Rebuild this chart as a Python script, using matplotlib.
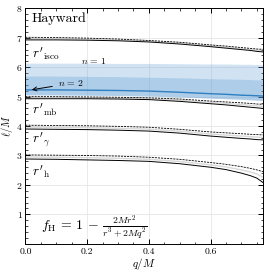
import numpy as np
import matplotlib
matplotlib.use("Agg")
import matplotlib.pyplot as plt

plt.rcParams['font.family'] = 'serif'
plt.rcParams['font.serif'] = ['cmr10']
plt.rcParams['mathtext.fontset'] = 'cm'
plt.rcParams['axes.formatter.use_mathtext'] = True

# charge values (q/M)
q = [0.0, 0.1, 0.2, 0.3, 0.4, 0.5, 0.6, 0.65, 0.7, 0.73, 0.75, 0.7698]

# solid / dashed curves
h_solid = [2.88, 2.87, 2.85, 2.83, 2.80, 2.72, 2.60, 2.52, 2.40, 2.31, 2.23, 2.08]
h_dash = [3.02, 3.01, 3.00, 2.98, 2.94, 2.87, 2.76, 2.70, 2.62, 2.56, 2.51, 2.45]
g_solid = [3.90, 3.89, 3.88, 3.86, 3.83, 3.76, 3.66, 3.62, 3.58, 3.56, 3.54, 3.53]
g_dash = [4.03, 4.02, 4.01, 3.99, 3.96, 3.89, 3.80, 3.77, 3.74, 3.72, 3.71, 3.70]
mb_solid = [4.93, 4.93, 4.93, 4.92, 4.90, 4.84, 4.76, 4.72, 4.67, 4.64, 4.62, 4.60]
mb_dash = [5.00, 5.00, 4.99, 4.98, 4.96, 4.92, 4.85, 4.82, 4.79, 4.77, 4.75, 4.74]
isco_solid = [6.93, 6.93, 6.92, 6.90, 6.86, 6.79, 6.70, 6.65, 6.60, 6.57, 6.54, 6.52]
isco_dash = [7.02, 7.01, 6.99, 6.96, 6.91, 6.85, 6.76, 6.72, 6.67, 6.64, 6.62, 6.61]

# ring bands
band_low = [5.06, 5.06, 5.05, 5.04, 5.02, 4.99, 4.95, 4.93, 4.91, 4.89, 4.88, 4.87]
n1_top = [6.14, 6.14, 6.14, 6.13, 6.13, 6.12, 6.11, 6.11, 6.10, 6.10, 6.09, 6.09]
n2_top = [5.70, 5.70, 5.69, 5.68, 5.66, 5.64, 5.61, 5.60, 5.59, 5.58, 5.57, 5.57]
n2_line = [5.23, 5.23, 5.22, 5.21, 5.19, 5.15, 5.10, 5.08, 5.05, 5.04, 5.03, 5.02]

fig = plt.figure(figsize=(2.70, 2.72), dpi=100)
ax = fig.add_axes([0.094, 0.104, 0.880, 0.865])

ax.fill_between(q, band_low, n1_top, color='#5b9bd5', alpha=0.28, lw=0)
ax.fill_between(q, band_low, n2_top, color='#5b9bd5', alpha=0.3, lw=0)
ax.plot(q, n2_line, color='#2f7fc1', lw=1.0)

for s, d in [(h_solid, h_dash), (g_solid, g_dash), (mb_solid, mb_dash), (isco_solid, isco_dash)]:
    mid = (np.array(s) + np.array(d)) / 2
    ax.plot(q, mid, color='gray', lw=1.0, alpha=0.3)
    ax.plot(q, s, color='k', lw=0.7)
    ax.plot(q, d, color='k', lw=0.6, ls=(0, (2.5, 1.2)))

ax.set_xlim(0, 0.7698)
ax.set_ylim(0, 8)
ax.set_xticks([0.0, 0.2, 0.4, 0.6])
ax.set_xticklabels(['0.0', '0.2', '0.4', '0.6'])
ax.set_yticks(range(1, 9))
ax.set_xticks(np.arange(0, 0.77, 0.05), minor=True)
ax.set_yticks(np.arange(0, 8.01, 0.2), minor=True)
ax.tick_params(which='both', direction='in', top=True, right=True, labelsize=7)
ax.tick_params(which='major', length=3.5, width=0.7, pad=3)
ax.tick_params(axis='y', which='major', pad=2)
ax.tick_params(which='minor', length=1.8, width=0.5)
ax.grid(True, which='major', color='#e6e6e6', lw=0.6)
ax.set_axisbelow(True)
for sp in ax.spines.values():
    sp.set_linewidth(0.7)

ax.set_xlabel(r'$q/M$', fontsize=8, labelpad=0)
ax.set_ylabel(r'$\ell/M$', fontsize=7.5)
ax.yaxis.set_label_coords(-0.045, 0.5)

ax.text(0.02, 7.65, 'Hayward', fontsize=10, va='center')
ax.text(0.02, 6.45, r"$r'_{\rm isco}$", fontsize=9.5, va='center')
ax.text(0.18, 6.22, r'$n\,=\,1$', fontsize=7, va='center')
ax.annotate(r'$n\,=\,2$', xy=(0.012, 5.22), xytext=(0.105, 5.45), fontsize=7, va='center',
            arrowprops=dict(arrowstyle='->', color='k', lw=0.7))
ax.text(0.02, 4.55, r"$r'_{\rm mb}$", fontsize=9.5, va='center')
ax.text(0.02, 3.55, r"$r'_{\gamma}$", fontsize=9.5, va='center')
ax.text(0.02, 2.45, r"$r'_{\rm h}$", fontsize=9.5, va='center')
ax.text(0.05, 0.55, r'$f_{\rm H}\,=\,1\,-\,\frac{2Mr^2}{r^3+2Mq^2}$', fontsize=10, va='center')

fig.savefig('out.png', dpi=100)
